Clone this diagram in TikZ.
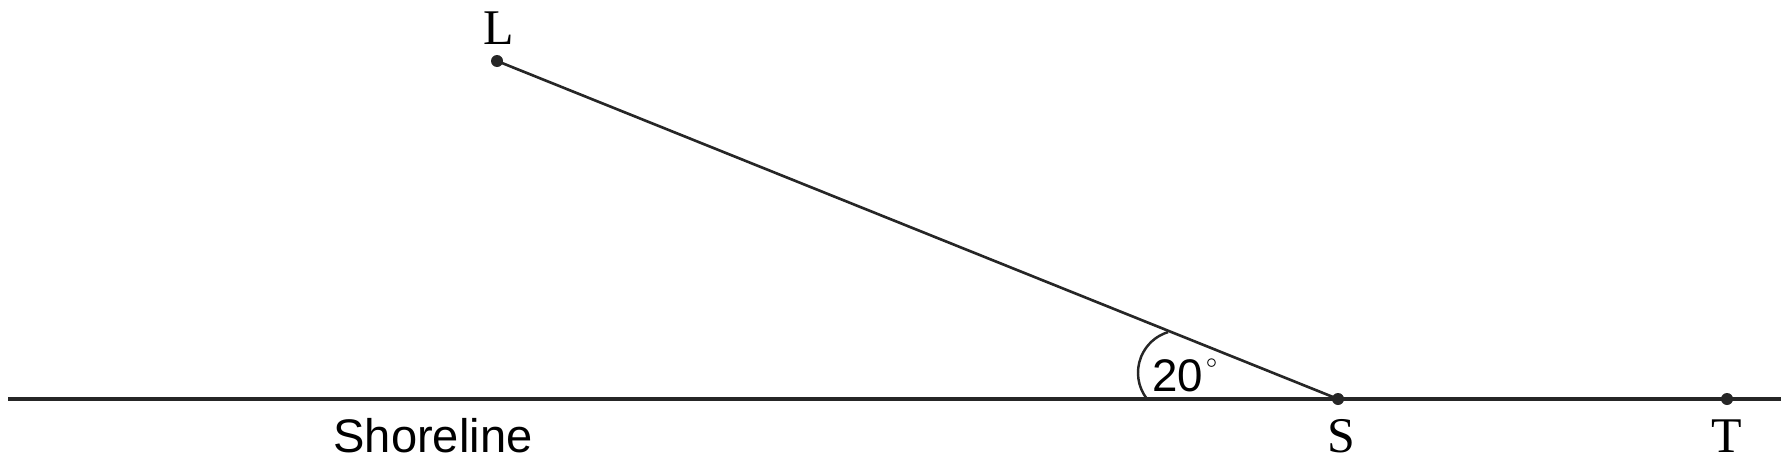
\documentclass[tikz,border=0pt]{standalone}
\usepackage{fontspec}
\setmainfont{Liberation Serif}
\setsansfont{Liberation Sans}
\usetikzlibrary{positioning}

\tikzset{
  ptlabel/.style={inner sep=0pt, anchor=base, font=\fontsize{14.2}{15}\selectfont},
  sflabel/.style={inner sep=0pt, anchor=base, font=\sffamily\fontsize{13.4}{15}\selectfont},
  pt/.style={circle, fill=black!85, inner sep=0pt, minimum size=0.12cm}
}
\newcommand{\degsign}{\kern0.6pt\raisebox{6.6pt}{\fontsize{5.5}{6}\selectfont$\circ$}}

\begin{document}
\begin{tikzpicture}
            \useasboundingbox (0,0) rectangle (17.91,4.64);
            % Shoreline
            \coordinate (W) at (0.08,0.65);
            \coordinate (E) at (17.81,0.65);
            \draw[line width=0.9pt, black!85] (W) -- (E);
            % Points
            \node[pt] (L) at (4.97,4.03) {};
            \node[pt] (S) at (13.38,0.65) {};
            \node[pt] (T) at (17.27,0.65) {};
            \draw[line width=0.75pt, black!85] (L.center) -- (S.center);
            % Angle at S
            \draw[line width=0.7pt, black!85] (S.center) ++(-1.91,0) arc[start angle=218, end angle=107, radius=0.426];
            \node[sflabel, anchor=base west, font=\sffamily\fontsize{13}{15}\selectfont] (ang) at (11.515,0.73) {20\degsign};
            % Labels
            \node[ptlabel] (Ltext) at (4.99,4.20) {L};
            \node[ptlabel] (Stext) at (13.41,0.12) {S};
            \node[ptlabel] (Ttext) at (17.27,0.12) {T};
            \node[sflabel] (shore) at (4.33,0.12) {Shoreline};
        \end{tikzpicture}
\end{document}
